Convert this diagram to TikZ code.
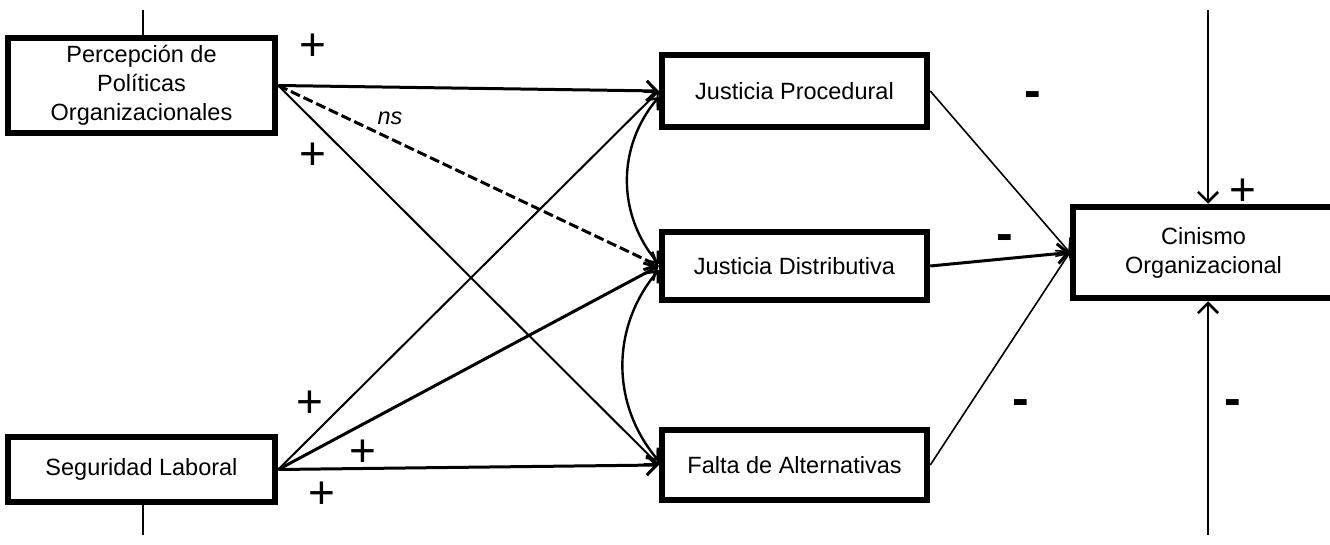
\documentclass[tikz,border=0pt]{standalone}
\usepackage{fontspec}
\setmainfont{Liberation Sans}
\usetikzlibrary{arrows.meta}
\begin{document}
\begin{tikzpicture}[x=1pt,y=1pt,
  box/.style={draw, line width=6.5pt, align=center, inner sep=0pt, font=\fontsize{23.5}{29}\selectfont},
  arr/.style={-{Straight Barb[length=10pt,width=20pt]}, line width=3pt},
  arrthin/.style={-{Straight Barb[length=10pt,width=20pt]}, line width=2pt},
  cov/.style={{Straight Barb[length=9pt,width=16pt]}-{Straight Barb[length=9pt,width=16pt]}, line width=2.4pt},
  plain/.style={line width=2.6pt},
  sign/.style={font=\fontsize{46}{46}\selectfont, inner sep=0pt},
  minus/.style={font=\bfseries\fontsize{50}{50}\selectfont, inner sep=0pt},
  lbl/.style={font=\itshape\fontsize{23.5}{23.5}\selectfont, inner sep=0pt}
]
\useasboundingbox (0,0) rectangle (1330,-545);
% boxes
\node[box, minimum width=267pt, minimum height=95pt] (ppo) at (141.5,-85.5) {Percepción de\\Políticas\\Organizacionales};
\node[box, minimum width=267pt, minimum height=65pt] (sl) at (141.5,-469.5) {Seguridad Laboral};
\node[box, minimum width=265pt, minimum height=72pt] (jp) at (794.5,-91) {Justicia Procedural};
\node[box, minimum width=265pt, minimum height=68pt] (jd) at (794.5,-266) {Justicia Distributiva};
\node[box, minimum width=265pt, minimum height=70pt] (fa) at (794.5,-465) {Falta de Alternativas};
\node[box, minimum width=267pt, minimum height=91pt, text width=260pt] (cin) at (1206.5,-252.5) {\hspace*{-6pt}Cinismo\\\hspace*{-6pt}Organizacional};
% free ends
\coordinate (ppotop) at (143,-10);
\coordinate (slbot) at (143,-535);
\coordinate (cintop) at (1208,-10);
\coordinate (cinbot) at (1208,-535);
% vertical lines
\draw[plain] (ppotop) -- (ppotop |- ppo.north);
\draw[plain] (slbot) -- (slbot |- sl.south);
\draw[arr, line width=2.6pt] (cintop) -- (cintop |- cin.north);
\draw[arr, line width=2.6pt] (cinbot) -- (cinbot |- cin.south);
% paths from exogenous
\draw[arr] (ppo.east) -- (jp.west);
\draw[arr, dash pattern=on 10pt off 4pt] (ppo.east) -- (jd.west);
\draw[arrthin] (ppo.east) -- (fa.west);
\draw[arrthin] (sl.east) -- (jp.west);
\draw[arr] (sl.east) -- (jd.west);
\draw[arr] (sl.east) -- (fa.west);
% covariances
\draw[cov] ([yshift=-6pt]jp.west) to[bend right=40] ([yshift=2pt]jd.west);
\draw[cov] ([yshift=-4pt]jd.west) to[bend right=40] ([yshift=4pt]fa.west);
% to outcome
\draw[arrthin, line width=1.6pt] (jp.east) -- (cin.west);
\draw[arr] (jd.east) -- (cin.west);
\draw[arrthin, line width=1.6pt] (fa.east) -- (cin.west);
% labels
\node[sign] (s1) at (313,-47) {+};
\node[sign] (s2) at (313,-156) {+};
\node[lbl] (ns) at (390,-118) {ns};
\node[sign] (s3) at (310,-404) {+};
\node[sign] (s4) at (363,-453) {+};
\node[sign] (s5) at (322,-495) {+};
\node[minus] (m1) at (1033,-100) {-};
\node[minus] (m2) at (1005,-243) {-};
\node[minus] (m3) at (1021,-408) {-};
\node[sign] (s6) at (1243,-192) {+};
\node[minus] (m4) at (1233,-408) {-};
\end{tikzpicture}
\end{document}
